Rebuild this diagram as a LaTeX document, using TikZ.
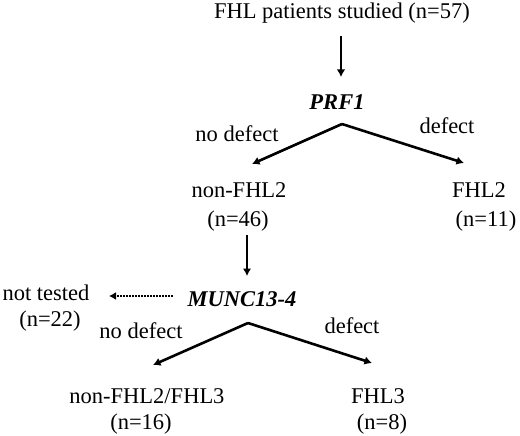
\documentclass[tikz,border=0pt]{standalone}
\usepackage{fontspec}
\setmainfont{Liberation Serif}
\usetikzlibrary{arrows.meta}
\begin{document}
\begin{tikzpicture}[x=1pt,y=-1pt,
  lbl/.style={anchor=base,inner sep=0pt,font=\fontsize{22.5}{27}\selectfont},
  gene/.style={lbl,font=\fontsize{22.5}{27}\selectfont\bfseries\itshape},
  arr/.style={line width=2.6pt,-{Latex[length=7.5pt,width=8.5pt]}},
  darr/.style={line width=2.8pt,dash pattern=on 1.6pt off 1.4pt,-{Latex[length=7pt,width=8pt]}}]
\useasboundingbox (0,0) rectangle (520,436);
% texts
\node[lbl] (top) at (342,19) {FHL patients studied (n=57)};
\node[gene] (prf) at (337,110) {PRF1};
\node[lbl] (nd1) at (237,142) {no defect};
\node[lbl] (d1) at (447,134) {defect};
\node[lbl] (nf2) at (239,197) {non-FHL2};
\node[lbl] (n46) at (238,226) {(n=46)};
\node[lbl] (f2) at (479,197) {FHL2};
\node[lbl] (n11) at (486,226) {(n=11)};
\node[gene] (munc) at (242,306) {MUNC13-4};
\node[lbl] (nt) at (46,300) {not tested};
\node[lbl] (n22) at (50,326) {(n=22)};
\node[lbl] (nd2) at (141,338) {no defect};
\node[lbl] (d2) at (352,333) {defect};
\node[lbl] (nf23) at (147,403) {non-FHL2/FHL3};
\node[lbl] (n16) at (141,429) {(n=16)};
\node[lbl] (f3) at (378,403) {FHL3};
\node[lbl] (n8) at (382,429) {(n=8)};
% connector points
\coordinate (s1) at (341,36);
\coordinate (e1) at (341,77);
\coordinate (ap1) at (342,124);
\coordinate (t1l) at (252,164);
\coordinate (t1r) at (464,163);
\coordinate (s2) at (247,235);
\coordinate (e2) at (247,276);
\coordinate (ap2) at (248,323);
\coordinate (t2l) at (153,365);
\coordinate (t2r) at (372,363);
\coordinate (ds) at (173,296);
\coordinate (de) at (109,296);
% connectors
\draw[arr] (s1) -- (e1);
\draw[arr] (ap1) -- (t1l);
\draw[arr] (ap1) -- (t1r);
\draw[arr] (s2) -- (e2);
\draw[arr] (ap2) -- (t2l);
\draw[arr] (ap2) -- (t2r);
\draw[darr] (ds) -- (de);
\end{tikzpicture}
\end{document}
